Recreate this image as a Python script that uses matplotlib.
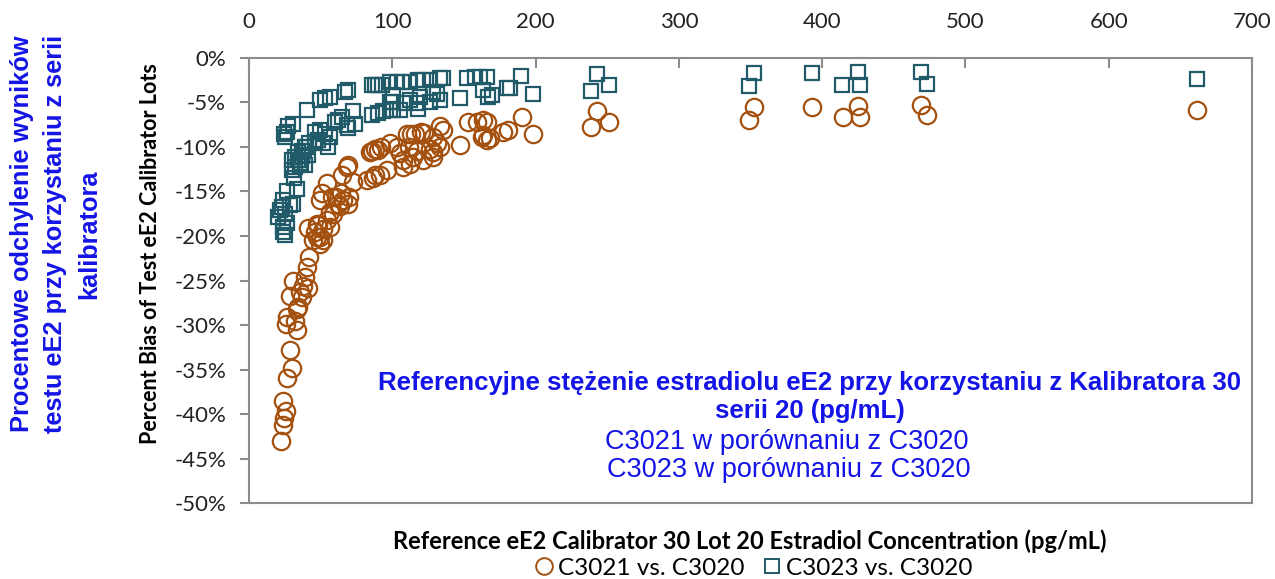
import numpy as np
import matplotlib
matplotlib.use("Agg")
import matplotlib.pyplot as plt
from matplotlib.ticker import PercentFormatter, MultipleLocator
from matplotlib.lines import Line2D

# C3021 vs. C3020 (circles): reference conc (pg/mL), bias (%)
c3021_x = [22.3, 24, 24.6, 25.6, 24, 26.3, 29.8, 28.6, 33.7, 25.6, 32.1, 26.3, 33.3, 34.4,
           36.8, 28.6, 30.9, 37.9, 39, 41.4, 35.5, 40.2, 41.9, 46, 41, 48.4, 49.5, 51.8,
           54.2, 56.5, 56.5, 49.5, 50.7, 54.2, 58.1, 60.7, 62.3, 64, 65.8, 63.5, 58.8, 69.3,
           69.9, 65.1, 68.1, 72.8, 69.3, 47.2, 51.8, 47.2, 44.9, 49.5, 82.1, 86.7, 91.4,
           96, 88, 86, 88, 90, 92, 84.5, 98.4, 103, 105.4, 107.7, 112, 117, 114.7, 112.3,
           107.7, 121.6, 128.6, 110, 113, 116, 120, 122, 126.3, 128.6, 128.6, 131, 133.3,
           133.3, 135.6, 147.2, 153, 158.8, 163.5, 165.8, 163.5, 165.8, 168, 162.4, 177.5,
           181, 190.3, 198.4, 238.4, 242.6, 251.4, 349, 352.3, 392.6, 414.2, 425.1, 426.3,
           469.3, 473.3, 661.9]
c3021_y = [-43.0, -41.2, -40.4, -39.6, -38.5, -36.0, -34.8, -32.8, -30.6, -29.9, -29.5, -29.1,
           -28.2, -28.0, -26.9, -26.7, -25.0, -25.6, -24.6, -25.8, -26.3, -23.5, -22.4, -19.6,
           -19.1, -18.8, -20.1, -20.5, -18.2, -19.0, -17.3, -16.0, -15.2, -14.1, -15.6, -15.6,
           -16.4, -15.2, -16.0, -16.6, -17.5, -16.4, -15.6, -13.1, -12.2, -13.9, -12.0, -18.6,
           -19.2, -20.1, -20.5, -20.9, -13.7, -13.5, -13.2, -12.6, -13.2, -10.4, -10.2, -10.3,
           -10.0, -10.6, -9.6, -10.0, -10.7, -11.5, -10.0, -10.4, -11.1, -11.9, -12.2, -11.5,
           -11.1, -8.6, -8.6, -8.5, -8.3, -8.4, -10.2, -10.6, -8.9, -9.6, -10.0, -7.7, -8.1,
           -9.8, -7.2, -7.2, -7.0, -7.2, -8.7, -9.2, -9.0, -8.9, -8.3, -8.1, -6.6, -8.5, -7.8,
           -6.0, -7.2, -7.0, -5.5, -5.5, -6.6, -5.4, -6.6, -5.3, -6.4, -5.9]

# C3023 vs. C3020 (squares)
c3023_x = [20.4, 21.6, 22.8, 23.9, 25.1, 23.9, 25.1, 24, 26.3, 28.6, 30.9, 26.3, 33.3, 29.8,
           32.1, 35.6, 39, 34.5, 37, 38.5, 40, 42, 36, 31.5, 56.5, 53, 49.5, 46, 55.3, 51.8,
           48.4, 46, 39, 36.8, 34.4, 32.1, 29.8, 41.4, 35.6, 30.9, 27.4, 25.1, 26.3, 24.5,
           40.2, 49.5, 53, 56.5, 67, 69.3, 85.6, 88, 90.2, 92.5, 85.6, 90.2, 93.7, 98.4, 72.8,
           74, 64.7, 62.3, 60, 69.3, 68.1, 100.7, 99.5, 98.4, 103, 106.5, 112.3, 118.1, 121.6,
           126.3, 133.3, 135.6, 151.9, 157.7, 161.2, 165.8, 128.6, 126.3, 119.3, 117, 118.1,
           112.3, 108.9, 105.4, 100.7, 98.4, 131, 133.3, 147.2, 163.5, 167, 169.3, 179.8,
           182.1, 190.1, 197.9, 238.4, 242.6, 251.4, 349, 352.3, 392.6, 413.7, 425.1, 426.3,
           468.8, 473.3, 661.9]
c3023_y = [-17.9, -17.1, -16.7, -16.0, -17.5, -19.0, -19.9, -19.6, -18.5, -16.5, -16.4, -14.9,
           -14.7, -12.6, -12.2, -12.0, -12.0, -11.5, -11.0, -10.5, -10.0, -9.6, -11.8, -13.5,
           -8.9, -8.5, -8.1, -8.3, -10.0, -9.6, -9.2, -9.4, -10.0, -10.4, -10.6, -11.1, -11.5,
           -10.9, -11.5, -7.4, -7.7, -8.9, -8.3, -8.6, -5.9, -4.7, -4.5, -4.4, -3.8, -3.6, -3.0,
           -3.0, -3.0, -3.0, -6.4, -6.2, -6.0, -5.9, -6.0, -7.4, -6.6, -7.0, -7.2, -7.9, -7.5,
           -4.2, -5.0, -2.7, -2.7, -2.7, -2.7, -2.5, -2.5, -2.5, -2.3, -2.3, -2.3, -2.1, -2.1,
           -2.1, -3.8, -4.9, -4.4, -5.1, -5.7, -4.7, -5.1, -5.9, -5.9, -4.9, -4.0, -4.7, -4.5,
           -3.6, -4.4, -4.2, -3.4, -3.4, -2.0, -4.0, -3.7, -1.8, -3.0, -3.2, -1.7, -1.7, -3.0,
           -1.6, -3.0, -1.6, -2.9, -2.4]

left_lines = ["Procentowe odchylenie wyników",
              "testu eE2 przy korzystaniu z serii",
              "kalibratora"]

orange = "#A4500F"
teal = "#215B69"
blue = "#1414E6"
calibri = ["Lato", "DejaVu Sans"]
arial = ["Liberation Sans", "DejaVu Sans"]
plt.rcParams["axes.unicode_minus"] = False

fig = plt.figure(figsize=(12.75, 5.79), dpi=100)
ax = fig.add_axes([0.1953, 0.131, 0.7867, 0.769])

ax.plot(c3021_x, c3021_y, "o", ms=12.5, mfc="none", mec=orange, mew=1.6)
ax.plot(c3023_x, c3023_y, "s", ms=9.8, mfc="none", mec=teal, mew=1.6)

ax.set_xlim(0, 700)
ax.set_ylim(-50, 0)
ax.xaxis.set_major_locator(MultipleLocator(100))
ax.yaxis.set_major_locator(MultipleLocator(5))
ax.yaxis.set_major_formatter(PercentFormatter(decimals=0))
ax.xaxis.tick_top()
ax.tick_params(axis="x", direction="in", length=7, width=1.5, color="#8c8c8c",
               labelsize=16, pad=19)
ax.tick_params(axis="y", direction="out", length=6.5, width=1.5, color="#8c8c8c",
               labelsize=16, pad=10)
for lab in ax.get_xticklabels() + ax.get_yticklabels():
    lab.set_family(calibri)
    lab.set_color("#222222")
for s in ax.spines.values():
    s.set_color("#8c8c8c")
    s.set_linewidth(1.5)

ax.set_ylabel("Percent Bias of Test eE2 Calibrator Lots", fontsize=15.5, fontweight="bold",
              family=calibri)
ax.yaxis.set_label_coords(-0.088, 0.561)

# blue translated annotations
ax.text(0.559, 0.270, "Referencyjne stężenie estradiolu eE2 przy korzystaniu z Kalibratora 30",
        transform=ax.transAxes, ha="center", va="center", color=blue, fontsize=18.5,
        fontweight="bold", family=arial)
ax.text(0.559, 0.207, "serii 20 (pg/mL)",
        transform=ax.transAxes, ha="center", va="center", color=blue, fontsize=18.5,
        fontweight="bold", family=arial)
ax.text(0.536, 0.137, "C3021 w porównaniu z C3020",
        transform=ax.transAxes, ha="center", va="center", color=blue, fontsize=19.5,
        family=arial)
ax.text(0.538, 0.074, "C3023 w porównaniu z C3020",
        transform=ax.transAxes, ha="center", va="center", color=blue, fontsize=19.5,
        family=arial)

for xf, line in zip([0.0172, 0.0435, 0.0700], left_lines):
    fig.text(xf, 0.596, line, rotation=90, ha="center", va="center", color=blue,
             fontsize=18.3, fontweight="bold", family=arial)

fig.text(0.588, 0.0656, "Reference eE2 Calibrator 30 Lot 20 Estradiol Concentration (pg/mL)",
         ha="center", va="center", fontsize=17, fontweight="bold", family=calibri)

handles = [Line2D([], [], ls="none", marker="o", ms=12, mfc="none", mec=orange, mew=1.4),
           Line2D([], [], ls="none", marker="s", ms=9.5, mfc="none", mec=teal, mew=1.4)]
fig.legend(handles, ["C3021 vs. C3020", "C3023 vs. C3020"], loc="center",
           bbox_to_anchor=(0.59, 0.019), ncol=2, frameon=False, handletextpad=0.1,
           columnspacing=0.6, handlelength=1.0, borderpad=0,
           prop={"family": calibri, "size": 17.5})

fig.savefig("out.png", dpi=100)
